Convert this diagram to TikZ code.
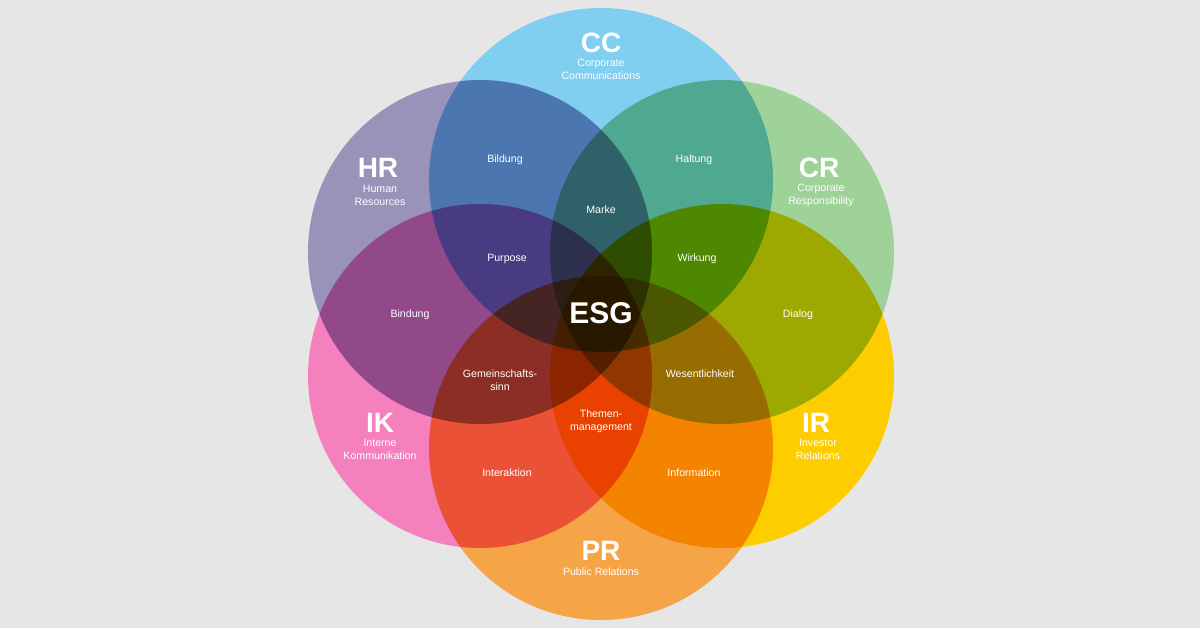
\documentclass[tikz,border=0pt]{standalone}
\usepackage{fontspec}
\setmainfont{Liberation Sans}
\begin{document}
\begin{tikzpicture}[x=0.5pt,y=-0.5pt,
  circ/.style={circle,minimum size=172pt,inner sep=0pt,draw=none},
  big/.style={text=white,font=\bfseries\fontsize{14}{14}\selectfont,inner sep=0pt},
  sub/.style={text=white,font=\fontsize{5.3}{6.5}\selectfont,align=center,inner sep=0pt},
  lab/.style={text=white,font=\fontsize{5.3}{6.5}\selectfont,align=center,inner sep=0pt}]
\definecolor{cc}{RGB}{128,206,240}
\definecolor{hr}{RGB}{153,147,186}
\definecolor{cr}{RGB}{159,210,153}
\definecolor{ik}{RGB}{244,128,189}
\definecolor{ir}{RGB}{253,205,0}
\definecolor{pr}{RGB}{246,164,72}
\definecolor{bg}{RGB}{230,230,230}
\fill[bg] (0,0) rectangle (1200,628);
\useasboundingbox (0,0) rectangle (1200,628);
\begin{scope}[blend group=multiply]
\node[circ,fill=cc] (CC) at (601,180) {};
\node[circ,fill=hr] (HR) at (480,252) {};
\node[circ,fill=cr] (CR) at (722,252) {};
\node[circ,fill=ik] (IK) at (480,376) {};
\node[circ,fill=ir] (IR) at (722,376) {};
\node[circ,fill=pr] (PR) at (601,448) {};
\end{scope}
\node[big] (tcc) at (601,43) {CC};
\node[sub] (scc) at (601,69) {Corporate\\Communications};
\node[big] (thr) at (378,168) {HR};
\node[sub] (shr) at (380,195) {Human\\Resources};
\node[big] (tcr) at (819,168) {CR};
\node[sub] (scr) at (821,195) {Corporate\\Responsibility};
\node[big] (tik) at (380,423) {IK};
\node[sub] (sik) at (380,449) {Interne\\Kommunikation};
\node[big] (tir) at (816,423) {IR};
\node[sub] (sir) at (818,449) {Investor\\Relations};
\node[big] (tpr) at (601,551) {PR};
\node[sub] (spr) at (601,572) {Public Relations};
\node[big,font=\bfseries\fontsize{15}{15}\selectfont] (esg) at (601,313) {ESG};
\node[lab] (l1) at (505,160) {Bildung};
\node[lab] (l2) at (694,160) {Haltung};
\node[lab] (l3) at (601,210) {Marke};
\node[lab] (l4) at (507,259) {Purpose};
\node[lab] (l5) at (697,259) {Wirkung};
\node[lab] (l6) at (410,315) {Bindung};
\node[lab] (l7) at (798,315) {Dialog};
\node[lab] (l8) at (500,380) {Gemeinschafts-\\sinn};
\node[lab] (l9) at (700,374) {Wesentlichkeit};
\node[lab] (l10) at (601,421) {Themen-\\management};
\node[lab] (l11) at (507,473) {Interaktion};
\node[lab] (l12) at (694,473) {Information};
\end{tikzpicture}
\end{document}
